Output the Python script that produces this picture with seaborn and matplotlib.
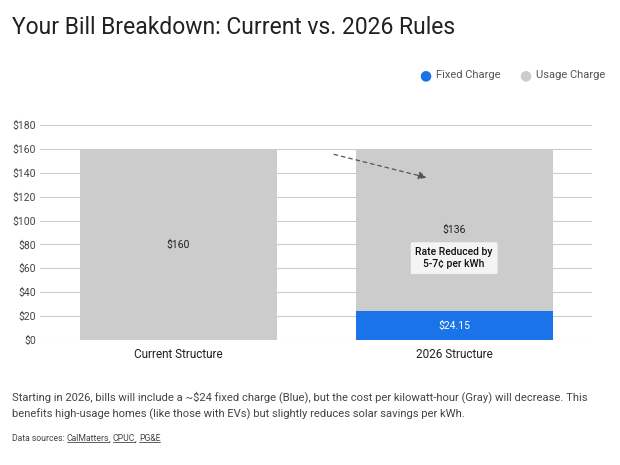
import pandas as pd
import numpy as np
import matplotlib.pyplot as plt
import seaborn as sns

structures = ["Current Structure", "2026 Structure"]
fixed_charge = [0, 24.15]
usage_charge = [160, 136]
y_ticks = [0, 20, 40, 60, 80, 100, 120, 140, 160, 180]
sources = ["CalMatters", "CPUC", "PG&E"]

blue = "#1a73e8"
gray = "#cccccc"

df = pd.DataFrame({
    "structure": structures,
    "fixed": fixed_charge,
    "usage": usage_charge,
})
df["total"] = df["fixed"] + df["usage"]

sns.set_style("white")
plt.rcParams["font.family"] = ["Roboto", "DejaVu Sans"]

fig = plt.figure(figsize=(6.2, 4.65), dpi=100)
ax = fig.add_axes([0.065, 0.269, 0.89, 0.462])

# stacked bars: total in gray, fixed part in blue on top of it
sns.barplot(data=df, x="structure", y="total", color=gray, width=0.715,
            saturation=1, linewidth=0, ax=ax, zorder=2)
sns.barplot(data=df, x="structure", y="fixed", color=blue, width=0.715,
            saturation=1, linewidth=0, ax=ax, zorder=3)

ax.set_ylim(0, 180)
ax.set_xlim(-0.5, 1.5)
ax.set_yticks(y_ticks)
ax.set_yticklabels([f"${v}" for v in y_ticks])
ax.yaxis.grid(True, color="#cccccc", linewidth=0.8, zorder=0)
ax.set_axisbelow(True)
for s in ax.spines.values():
    s.set_visible(False)
ax.tick_params(axis="y", length=0, labelsize=7.5, labelcolor="#444444", pad=3)
ax.tick_params(axis="x", length=0, labelsize=8.5, labelcolor="#222222", pad=6)
ax.set_xlabel("")
ax.set_ylabel("")

# segment labels
for i, row in df.iterrows():
    if row["fixed"] > 0:
        ax.text(i, row["fixed"] / 2, f"${row['fixed']:.2f}", ha="center",
                va="center", fontsize=7.5, color="white", zorder=5)
    ax.text(i, row["fixed"] + row["usage"] / 2, f"${row['usage']:.0f}",
            ha="center", va="center", fontsize=7.5, color="#222222", zorder=5)

ax.text(1, 68.5, "Rate Reduced by\n5-7¢ per kWh", ha="center", va="center",
        fontsize=7.5, fontweight="medium", color="#111111", linespacing=1.3,
        zorder=6,
        bbox=dict(boxstyle="round,pad=0.45,rounding_size=0.15",
                  facecolor="#f4f4f4", edgecolor="none"))

ax.annotate("", xy=(0.91, 135.5), xytext=(0.555, 156),
            arrowprops=dict(arrowstyle="-|>", linestyle=(0, (3, 3)),
                            color="#555555", lw=0.9, mutation_scale=12),
            zorder=6)

fig.text(0.019, 0.94, "Your Bill Breakdown: Current vs. 2026 Rules",
         fontsize=16.5, color="#202124", va="center")

# legend
fig.text(0.686, 0.839, "●", fontsize=10, color=blue, va="center",
         ha="center")
fig.text(0.703, 0.839, "Fixed Charge", fontsize=8, color="#555555",
         va="center")
fig.text(0.848, 0.839, "●", fontsize=10, color=gray, va="center",
         ha="center")
fig.text(0.865, 0.839, "Usage Charge", fontsize=8, color="#555555",
         va="center")

fig.text(0.019, 0.127,
         "Starting in 2026, bills will include a ~$24 fixed charge (Blue), but the cost per kilowatt-hour (Gray) will decrease. This\n"
         "benefits high-usage homes (like those with EVs) but slightly reduces solar savings per kWh.",
         fontsize=8.1, color="#444444", va="center", linespacing=1.6)

# data sources with underlined links
fig.canvas.draw()
r = fig.canvas.get_renderer()
W, H = fig.bbox.width, fig.bbox.height
t = fig.text(0.019, 0.056, "Data sources: ", fontsize=6.2, color="#444444",
             va="center")
x = t.get_window_extent(r).x1 / W
for j, name in enumerate(sources):
    lt = fig.text(x, 0.056, name, fontsize=6.2, color="#444444", va="center")
    bb = lt.get_window_extent(r)
    fig.add_artist(plt.Line2D([bb.x0 / W, bb.x1 / W], [(bb.y0 + 1) / H] * 2,
                              color="#444444", lw=0.6))
    x = bb.x1 / W
    if j < len(sources) - 1:
        c = fig.text(x, 0.056, ", ", fontsize=6.2, color="#444444",
                     va="center")
        x = c.get_window_extent(r).x1 / W

fig.savefig("out.png", dpi=100, facecolor="white")
